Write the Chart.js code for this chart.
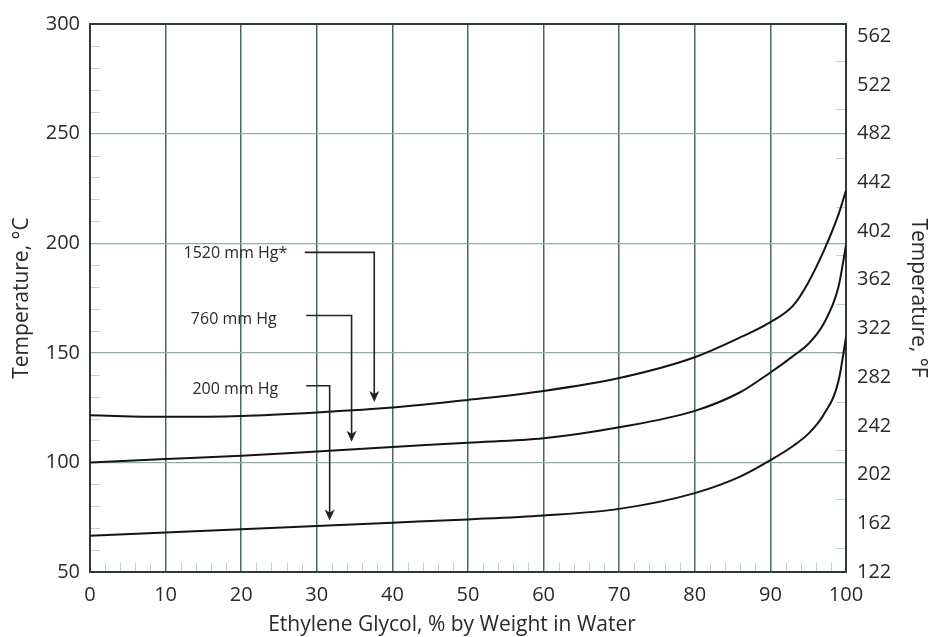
<!DOCTYPE html>
<html>
<head>
<meta charset="utf-8">
<script src="https://cdn.jsdelivr.net/npm/chart.js@4.4.0/dist/chart.umd.min.js"></script>
<style>
  html, body { margin: 0; padding: 0; background: #fff; }
  #wrap { width: 931px; height: 637px; }
</style>
</head>
<body>
<div id="wrap"><canvas id="chart" width="931" height="637"></canvas></div>
<script>
// ethylene glycol, % by weight in water
const glycolPct = [0, 10, 20, 30, 40, 50, 60, 70, 80, 86, 90, 93, 95, 97, 99, 100];
// boiling point in deg C at three pressures
const bp1520 = [121.5, 120.8, 121.2, 122.8, 125, 128.5, 132.6, 138.5, 148, 157, 164, 171.5, 182, 196, 213, 224];
const bp760  = [100, 101.5, 103, 105, 107, 109, 111, 116, 123.5, 132, 141, 148.5, 154, 163, 180, 199];
const bp200  = [66.5, 68, 69.5, 71, 72.5, 74, 75.8, 78.8, 86, 93.5, 101, 107.5, 113, 121.5, 137, 157];

const pctTicks = [0, 10, 20, 30, 40, 50, 60, 70, 80, 90, 100];
const degCTicks = [50, 100, 150, 200, 250, 300];
const degFTicks = [122, 162, 202, 242, 282, 322, 362, 402, 442, 482, 522, 562];
const pressureLabels = ['1520 mm Hg*', '760 mm Hg', '200 mm Hg'];

const FONT = '"Open Sans", "Noto Sans", sans-serif';
const INK = '#2a2a2a';

// callouts, in data units: text end, elbow line and arrow tip
const callouts = [
  { textX: 26.1, textY: 195.5, lineX0: 28.4, lineX1: 37.6, lineY: 195.8, tipY: 127.5 },
  { textX: 24.7, textY: 165.4, lineX0: 28.6, lineX1: 34.6, lineY: 167.0, tipY: 109.4 },
  { textX: 24.9, textY: 133.5, lineX0: 28.6, lineX1: 31.7, lineY: 135.0, tipY: 73.5 }
];

const extras = {
  id: 'extras',
  beforeDatasetsDraw(chart) {
    const { ctx, chartArea: a, scales: { x, y, yF } } = chart;
    ctx.save();
    // small inner ticks
    ctx.strokeStyle = '#c3cfc9';
    ctx.lineWidth = 1;
    ctx.beginPath();
    for (let v = 2; v < 100; v += 2) {
      if (v % 10 === 0) continue;
      const px = Math.round(x.getPixelForValue(v)) + 0.5;
      ctx.moveTo(px, a.bottom);
      ctx.lineTo(px, a.bottom - 9);
    }
    for (let v = 60; v < 300; v += 10) {
      if (v % 50 === 0) continue;
      const py = Math.round(y.getPixelForValue(v)) + 0.5;
      ctx.moveTo(a.left, py);
      ctx.lineTo(a.left + 10, py);
    }
    for (let v = 142; v < 572; v += 40) {
      const py = Math.round(yF.getPixelForValue(v)) + 0.5;
      ctx.moveTo(a.right, py);
      ctx.lineTo(a.right - 10, py);
    }
    ctx.stroke();
    // frame
    ctx.strokeStyle = '#2e3b35';
    ctx.lineWidth = 2;
    ctx.strokeRect(a.left, a.top, a.right - a.left, a.bottom - a.top);
    ctx.restore();
  },
  afterDatasetsDraw(chart) {
    const { ctx, chartArea: a, scales: { x, y } } = chart;
    ctx.save();
    ctx.font = '16px ' + FONT;
    ctx.fillStyle = INK;
    ctx.strokeStyle = '#222';
    ctx.lineWidth = 1.6;
    ctx.textAlign = 'right';
    ctx.textBaseline = 'middle';
    callouts.forEach((c, i) => {
      ctx.fillText(pressureLabels[i], x.getPixelForValue(c.textX), y.getPixelForValue(c.textY));
      const x0 = x.getPixelForValue(c.lineX0), x1 = x.getPixelForValue(c.lineX1);
      const ly = y.getPixelForValue(c.lineY), ty = y.getPixelForValue(c.tipY);
      ctx.beginPath();
      ctx.moveTo(x0, ly);
      ctx.lineTo(x1, ly);
      ctx.lineTo(x1, ty - 4);
      ctx.stroke();
      ctx.beginPath();
      ctx.moveTo(x1, ty);
      ctx.lineTo(x1 - 5, ty - 11);
      ctx.lineTo(x1, ty - 8);
      ctx.lineTo(x1 + 5, ty - 11);
      ctx.closePath();
      ctx.fillStyle = '#222';
      ctx.fill();
      ctx.fillStyle = INK;
    });
    // x axis title, sits a little left of centre
    ctx.font = '21px ' + FONT;
    ctx.textAlign = 'center';
    ctx.fillText('Ethylene Glycol, % by Weight in Water', (a.left + a.right) / 2 - 16, 625);
    ctx.restore();
  }
};

const curve = (label, data) => ({
  label,
  data: glycolPct.map((p, i) => ({ x: p, y: data[i] })),
  borderColor: '#141414',
  borderWidth: 2,
  pointRadius: 0,
  fill: false,
  cubicInterpolationMode: 'monotone',
  yAxisID: 'y'
});

new Chart(document.getElementById('chart'), {
  type: 'line',
  data: {
    datasets: [
      curve('1520 mm Hg', bp1520),
      curve('760 mm Hg', bp760),
      curve('200 mm Hg', bp200)
    ]
  },
  plugins: [extras],
  options: {
    responsive: false,
    animation: false,
    layout: { padding: { top: 24, left: 0, right: 0, bottom: 0 } },
    plugins: { legend: { display: false }, tooltip: { enabled: false } },
    scales: {
      x: {
        type: 'linear',
        min: 0, max: 100,
        afterFit: s => { s.height = 65; },
        afterBuildTicks: s => { s.ticks = pctTicks.map(v => ({ value: v })); },
        grid: { color: '#4a685b', lineWidth: 1.5, drawTicks: false },
        border: { display: false },
        ticks: { color: INK, padding: 11, font: { family: FONT, size: 20 } },
        title: { display: false }
      },
      y: {
        type: 'linear',
        position: 'left',
        min: 50, max: 300,
        afterFit: s => { s.width = 90; },
        afterBuildTicks: s => { s.ticks = degCTicks.map(v => ({ value: v })); },
        grid: { color: '#8bb29c', lineWidth: 1.2, drawTicks: false },
        border: { display: false },
        ticks: { color: INK, padding: 10, font: { family: FONT, size: 20 } },
        title: { display: true, text: 'Temperature, °C', color: INK, padding: { top: 9 }, font: { family: FONT, size: 21 } }
      },
      yF: {
        type: 'linear',
        position: 'right',
        min: 122, max: 572,
        afterFit: s => { s.width = 85; },
        afterBuildTicks: s => { s.ticks = degFTicks.map(v => ({ value: v })); },
        grid: { display: false, drawTicks: false },
        border: { display: false },
        ticks: { color: INK, padding: 11, font: { family: FONT, size: 20 } },
        title: { display: true, text: 'Temperature, °F', color: INK, padding: { top: 0 }, font: { family: FONT, size: 21 } }
      }
    }
  }
});
</script>
</body>
</html>
